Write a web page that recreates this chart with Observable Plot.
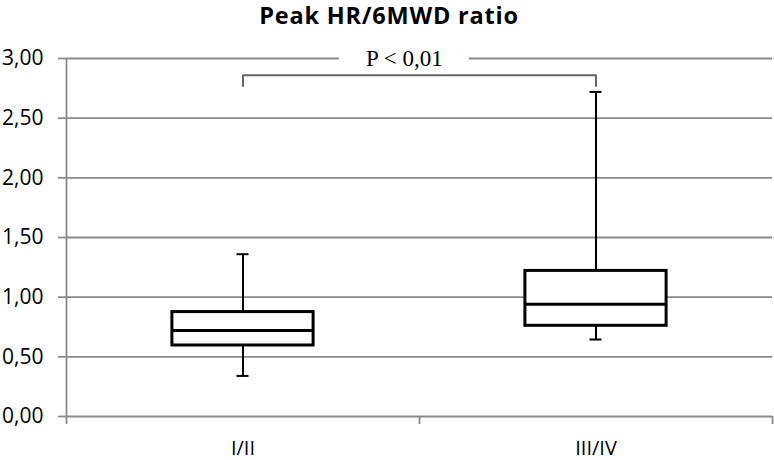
<!DOCTYPE html>
<html>
<head>
<meta charset="utf-8">
<script src="https://cdn.jsdelivr.net/npm/d3@7"></script>
<script src="https://cdn.jsdelivr.net/npm/@observablehq/plot@0.6"></script>
<style>
  html, body { margin: 0; padding: 0; background: #fff; }
  #title { width: 778px; height: 30px; overflow: visible; text-align: center; font-family: "Open Sans", sans-serif; font-weight: bold; font-size: 23.5px; line-height: 30px; letter-spacing: 0.8px; color: #000; white-space: nowrap; }
</style>
</head>
<body>
<div id="title">Peak HR/6MWD ratio</div>
<div id="chart"></div>
<script>
// ---- data ----
const categories   = ["I/II", "III/IV"];
const lowWhisker   = [0.34, 0.645];
const q1           = [0.595, 0.76];
const median       = [0.72, 0.94];
const q3           = [0.875, 1.22];
const highWhisker  = [1.36, 2.72];
const yTicks       = [0, 0.5, 1, 1.5, 2, 2.5, 3];
const pLabel       = "P < 0,01";
const bracketTop   = 2.86;
const bracketFoot  = 2.77;

// ---- build table ----
const rows = categories.map((c, i) => ({
  cat: c, pos: i + 0.5,
  lo: lowWhisker[i], q1: q1[i], med: median[i], q3: q3[i], hi: highWhisker[i]
}));
const boxHalf = 0.2, capHalf = 0.017;
const bracket = [
  {x: rows[0].pos, y: bracketFoot}, {x: rows[0].pos, y: bracketTop},
  {x: rows[1].pos, y: bracketTop}, {x: rows[1].pos, y: bracketFoot}
];
const fmt = d => d.toFixed(2).replace(".", ",");
const grid = "#8a8a8a";
const labelX = 0.957;

const chart = Plot.plot({
  width: 774,
  height: 430,
  marginTop: 28,
  marginBottom: 44,
  marginLeft: 66,
  marginRight: 2,
  style: {fontFamily: "'Open Sans', sans-serif", fontSize: "20px", color: "#000", background: "#fff"},
  x: {type: "linear", domain: [0, categories.length]},
  y: {domain: [0, 3]},
  marks: [
    Plot.ruleY(yTicks, {stroke: grid, strokeWidth: 1.8}),
    Plot.ruleX([0], {y1: 0, y2: 3, stroke: grid, strokeWidth: 1.8}),
    Plot.axisY({ticks: yTicks, tickFormat: fmt, tickSize: 8, tickPadding: 15, stroke: grid, strokeWidth: 1.8, fill: "#000", fontSize: 21, label: null}),
    Plot.axisX({ticks: d3.range(categories.length + 1), tickFormat: () => "", tickSize: 8, stroke: grid, strokeWidth: 1.8, label: null}),
    Plot.axisX({ticks: rows.map(d => d.pos), tickFormat: d => categories[Math.floor(d)], tickSize: 0, tickPadding: 24, fill: "#000", fontSize: 20, label: null}),
    Plot.rect([{}], {x1: labelX - 0.184, x2: labelX + 0.184, y1: 2.97, y2: 3.03, fill: "#fff"}),
    Plot.line(bracket, {x: "x", y: "y", stroke: "#666", strokeWidth: 2}),
    Plot.text([pLabel], {x: labelX, y: 3, text: d => d, fontFamily: "Liberation Serif, serif", fontSize: 23, fill: "#000", lineAnchor: "middle"}),
    Plot.ruleX(rows, {x: "pos", y1: "lo", y2: "hi", stroke: "#000", strokeWidth: 2}),
    Plot.ruleY(rows, {y: "lo", x1: d => d.pos - capHalf, x2: d => d.pos + capHalf, stroke: "#000", strokeWidth: 2}),
    Plot.ruleY(rows, {y: "hi", x1: d => d.pos - capHalf, x2: d => d.pos + capHalf, stroke: "#000", strokeWidth: 2}),
    Plot.rect(rows, {x1: d => d.pos - boxHalf, x2: d => d.pos + boxHalf, y1: "q1", y2: "q3", fill: "#fff", stroke: "#000", strokeWidth: 3}),
    Plot.ruleY(rows, {y: "med", x1: d => d.pos - boxHalf, x2: d => d.pos + boxHalf, stroke: "#000", strokeWidth: 3})
  ]
});
document.getElementById("chart").appendChild(chart);
</script>
</body>
</html>
